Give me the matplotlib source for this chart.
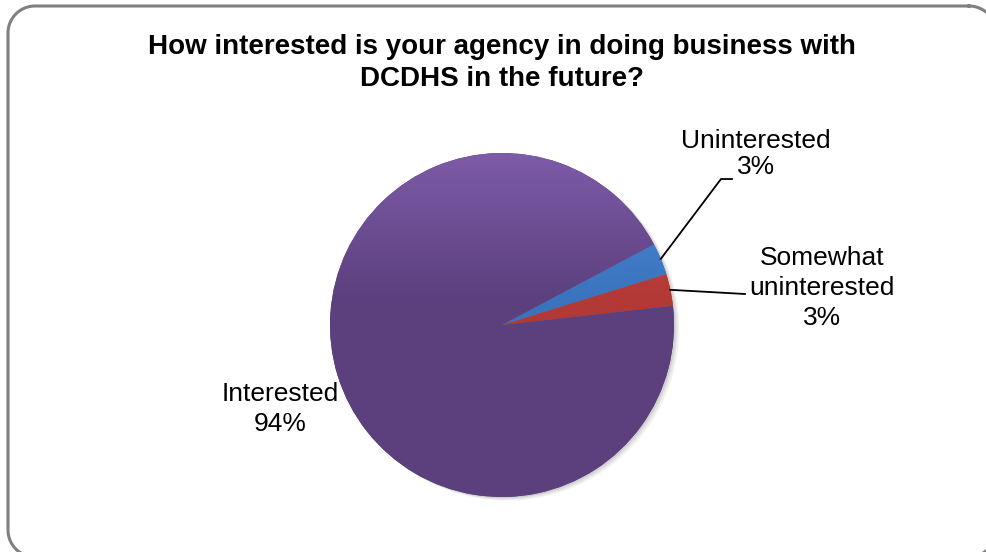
import numpy as np
import matplotlib.pyplot as plt
from matplotlib.colors import LinearSegmentedColormap
from matplotlib.lines import Line2D

plt.rcParams['font.family'] = ['Liberation Sans', 'DejaVu Sans']

labels = ["Uninterested", "Somewhat\nuninterested", "Interested"]
values = [3, 3, 94]
light = ["#4E8BD9", "#D54E49", "#7D5BA8"]
dark = ["#3A73BE", "#B23936", "#5C407E"]

W, H = 986, 552
fig = plt.figure(figsize=(W / 100, H / 100), dpi=100)

# rounded frame, built in pixels (top-down), runs off right/bottom edge
def rounded_rect(x0, y0, x1, y1, rad, n=20):
    xs, ys = [], []
    corners = [(x1 - rad, y0 + rad, -90, 0), (x1 - rad, y1 - rad, 0, 90),
               (x0 + rad, y1 - rad, 90, 180), (x0 + rad, y0 + rad, 180, 270)]
    for ccx, ccy, a0, a1 in corners:
        t = np.deg2rad(np.linspace(a0, a1, n))
        xs.extend(ccx + rad * np.cos(t))
        ys.extend(ccy + rad * np.sin(t))
    xs.append(xs[0])
    ys.append(ys[0])
    return np.array(xs), np.array(ys)

fx, fy = rounded_rect(8, 6, 996, 557, 27)
fig.add_artist(Line2D(fx / W, 1 - fy / H, color="#808080", lw=2.2,
                      transform=fig.transFigure, zorder=-1))

fig.text(502 / W, 1 - 63 / H,
         "How interested is your agency in doing business with\nDCDHS in the future?",
         ha="center", va="center", fontsize=20, fontweight="bold",
         linespacing=1.25)

cx, cy, r = 502, 325, 172
ax = fig.add_axes([(cx - r) / W, (H - cy - r) / H, 2 * r / W, 2 * r / H])
ax.axis("off")

# soft shadow
for k, a in [(0.03, 0.12), (0.02, 0.18), (0.01, 0.25)]:
    ax.add_patch(plt.Circle((k, -k * 0.7), 1.0, color="#9a9a9a", alpha=a,
                            zorder=0, clip_on=False, lw=0))

wedges, _ = ax.pie(values, startangle=28, counterclock=False, radius=1.0,
                   colors=dark, wedgeprops=dict(linewidth=0))

yy = np.linspace(1, -1, 200)
grad = np.clip((yy - 0.15) / 0.85, 0, 1)[:, None] * np.ones((1, 2))
for w, c1, c2 in zip(wedges, light, dark):
    cmap = LinearSegmentedColormap.from_list("g", [c2, c1])
    im = ax.imshow(grad, extent=[-1, 1, -1, 1], cmap=cmap, vmin=0, vmax=1,
                   origin="upper", zorder=2, aspect="auto")
    im.set_clip_path(w)
ax.set_xlim(-1.0, 1.0)
ax.set_ylim(-1.0, 1.0)
ax.set_aspect("equal")

def edge_point(w):
    a = np.deg2rad((w.theta1 + w.theta2) / 2)
    return np.cos(a), np.sin(a)

lab_fs = 19
# Uninterested
fig.text(756 / W, 1 - 154 / H, "%s\n%d%%" % (labels[0], values[0]),
         ha="center", va="center", fontsize=lab_fs, linespacing=1.12)
x0, y0 = edge_point(wedges[0])
ax.plot([x0, (721 - cx) / r, (732 - cx) / r], [y0, (cy - 179) / r, (cy - 179) / r],
        color="black", lw=1.3, clip_on=False, zorder=5)

# Somewhat uninterested
fig.text(822 / W, 1 - 288 / H, "%s\n%d%%" % (labels[1], values[1]),
         ha="center", va="center", fontsize=lab_fs, linespacing=1.3)
x1, y1 = edge_point(wedges[1])
ax.plot([x1, (745 - cx) / r], [y1, (cy - 294) / r],
        color="black", lw=1.3, clip_on=False, zorder=5)

# Interested
fig.text(280 / W, 1 - 409 / H, "%s\n%d%%" % (labels[2], values[2]),
         ha="center", va="center", fontsize=lab_fs, linespacing=1.3)

fig.savefig("out.png", dpi=100)
